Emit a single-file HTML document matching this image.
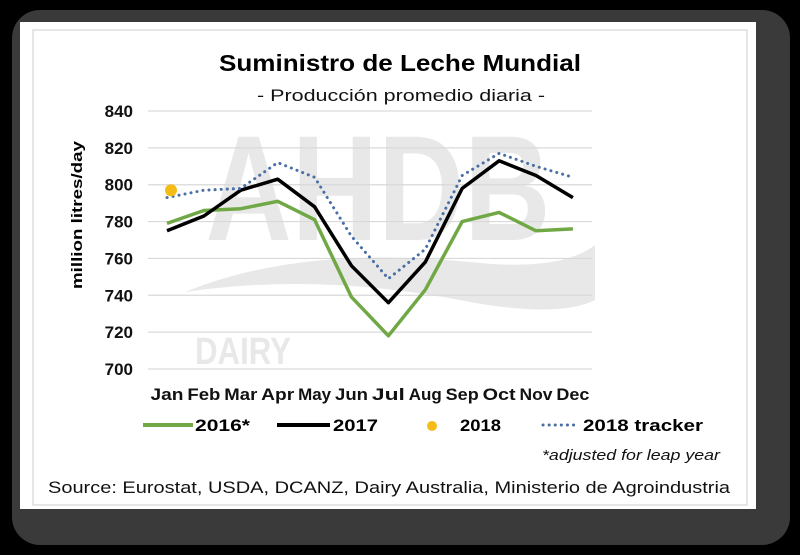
<!DOCTYPE html>
<html><head><meta charset="utf-8"><style>
html,body{margin:0;padding:0;background:#000;}
svg{display:block;font-family:"Liberation Sans",sans-serif;}
</style></head><body>
<svg width="800" height="555" viewBox="0 0 800 555">
<rect x="0" y="0" width="800" height="555" fill="#000"/>
<rect x="12" y="10" width="778" height="535" rx="28" fill="#3a3a3a"/>
<rect x="20" y="22" width="736" height="487" fill="#fff"/>
<rect x="33" y="30" width="714" height="475" fill="none" stroke="#ddd" stroke-width="1.5"/>
<g fill="#e8e8e8">
<text x="378" y="240" text-anchor="middle" font-size="150" font-weight="bold" textLength="345" lengthAdjust="spacingAndGlyphs">AHDB</text>
<path d="M185 292 Q300 245 470 262 Q560 272 595 245 L595 300 Q560 318 470 302 Q320 272 185 292 Z"/>
<text x="195" y="364" font-size="38" font-weight="bold" textLength="96" lengthAdjust="spacingAndGlyphs">DAIRY</text>
</g>
<text x="400" y="71" text-anchor="middle" font-size="23" font-weight="bold" fill="#000" textLength="362" lengthAdjust="spacingAndGlyphs">Suministro de Leche Mundial</text>
<text x="401" y="101" text-anchor="middle" font-size="17" fill="#111" textLength="288" lengthAdjust="spacingAndGlyphs">- Producción promedio diaria -</text>
<g id="grid"></g>
<g id="yaxis"></g>
<g id="xaxis"></g>
<g id="series"></g>
<text transform="translate(82,215) rotate(-90)" text-anchor="middle" font-size="15" font-weight="bold" fill="#000" textLength="148" lengthAdjust="spacingAndGlyphs">million litres/day</text>
<g>
<g><line x1="143" y1="425" x2="193" y2="425" stroke="#70a845" stroke-width="4"/><text x="195" y="431" font-size="17" font-weight="bold" textLength="55" lengthAdjust="spacingAndGlyphs">2016*</text></g>
<g><line x1="277" y1="425" x2="330" y2="425" stroke="#000" stroke-width="4"/><text x="333" y="431" font-size="17" font-weight="bold" textLength="45" lengthAdjust="spacingAndGlyphs">2017</text></g>
<g><circle cx="432" cy="426" r="5" fill="#f5bb16"/><text x="460" y="431" font-size="17" font-weight="bold" textLength="41" lengthAdjust="spacingAndGlyphs">2018</text></g>
<g><line x1="543" y1="425" x2="577" y2="425" stroke="#4a6fa5" stroke-width="3" stroke-dasharray="0.1,6" stroke-linecap="round"/><text x="583" y="431" font-size="17" font-weight="bold" textLength="120" lengthAdjust="spacingAndGlyphs">2018 tracker</text></g>
</g>
<text x="720" y="460" text-anchor="end" font-size="15" font-style="italic" fill="#111" textLength="178" lengthAdjust="spacingAndGlyphs">*adjusted for leap year</text>
<text x="48" y="493" font-size="17" fill="#111" textLength="682" lengthAdjust="spacingAndGlyphs">Source: Eurostat, USDA, DCANZ,  Dairy Australia, Ministerio de Agroindustria</text>
</svg>
<script>
const months = ["Jan","Feb","Mar","Apr","May","Jun","Jul","Aug","Sep","Oct","Nov","Dec"];
const yTicks = [700,720,740,760,780,800,820,840];
const s2016 = [779,786,787,791,781,739,718,743,780,785,775,776];
const s2017 = [775,783,797,803,788,756,736,758,798,813,805,793];
const tracker2018 = [793,797,798,812,804,772,749,765,805,817,810,804];
const actual2018 = [797];

const NS = "http://www.w3.org/2000/svg";
function xPos(i){ return 167 + i * 36.9; }
function yPos(v){ return 369 - (v - 700) * (258 / 140); }
function mk(tag, attrs, parent){
  const e = document.createElementNS(NS, tag);
  for (const k in attrs) e.setAttribute(k, attrs[k]);
  parent.appendChild(e);
  return e;
}
const grid = document.getElementById("grid");
const yaxis = document.getElementById("yaxis");
const xaxis = document.getElementById("xaxis");
const series = document.getElementById("series");

yTicks.forEach(v => {
  const l = mk("line", {x1:148, x2:592, y1:yPos(v), y2:yPos(v), stroke:"#d9d9d9", "stroke-width":1.2}, grid);
  
  
  const t = mk("text", {x:133, y:yPos(v)+6, "text-anchor":"end", "font-size":17, "font-weight":"bold", fill:"#111"}, yaxis);
  t.textContent = v;
  
  
});
months.forEach((m, i) => {
  const t = mk("text", {x:xPos(i), y:400, "text-anchor":"middle", "font-size":17, "font-weight":"bold", fill:"#111", textLength:33, lengthAdjust:"spacingAndGlyphs"}, xaxis);
  t.textContent = m;
  
  
});
function line(vals, attrs, name){
  const pts = vals.map((v,i) => xPos(i).toFixed(1) + "," + yPos(v).toFixed(1)).join(" ");
  const p = mk("polyline", Object.assign({points:pts, fill:"none"}, attrs), series);
  
  
}
line(s2016, {stroke:"#70a845", "stroke-width":3.5, "stroke-linejoin":"round"}, "line-2016");
line(s2017, {stroke:"#000", "stroke-width":3.5, "stroke-linejoin":"round"}, "line-2017");
line(tracker2018, {stroke:"#4a6fa5", "stroke-width":3, "stroke-dasharray":"0.1,6", "stroke-linecap":"round"}, "line-2018-tracker");
actual2018.forEach((v,i) => {
  const c = mk("circle", {cx:xPos(i)+4, cy:yPos(v), r:6, fill:"#f5bb16"}, series);
  
  
});
</script>
</body></html>
